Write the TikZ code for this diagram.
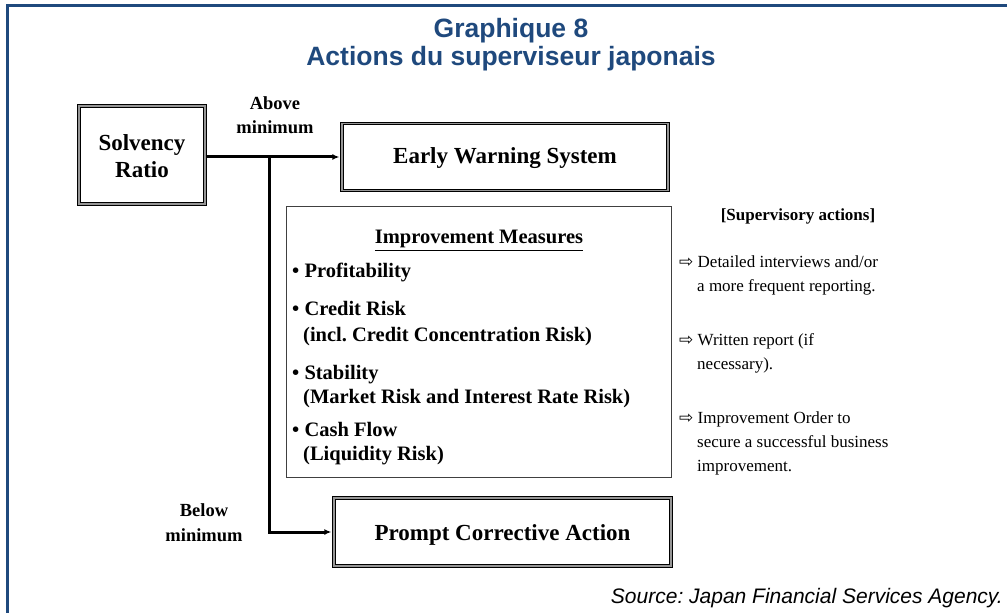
\documentclass[tikz,border=0pt]{standalone}
\usepackage{fontspec}
\setmainfont{Liberation Serif}
\setsansfont{Liberation Sans}
\newfontfamily\djv{DejaVu Sans}
\usetikzlibrary{arrows.meta}
\definecolor{titleblue}{RGB}{31,73,125}
\definecolor{dgray}{RGB}{150,150,150}
\frenchspacing
\begin{document}
\begin{tikzpicture}[x=1bp,y=-1bp,
  dbox/.style={draw=black, line width=1.3bp, double=dgray, double distance=1.3bp, inner sep=0pt},
  mbox/.style={draw=black!75, line width=0.9bp, inner sep=0pt},
  conn/.style={line width=3bp, -{Latex[length=7bp,width=6bp]}, shorten >=2bp},
  ttl/.style={font=\sffamily\bfseries\fontsize{26.5bp}{30bp}\selectfont, text=titleblue, inner sep=0pt, anchor=base},
  lbl/.style={font=\bfseries\fontsize{18.5bp}{22bp}\selectfont, inner sep=0pt, anchor=base},
  big/.style={font=\bfseries\fontsize{23bp}{27bp}\selectfont, inner sep=0pt, anchor=base},
  mid/.style={font=\bfseries\fontsize{20.5bp}{24bp}\selectfont, inner sep=0pt, anchor=base west},
  sup/.style={font=\fontsize{17bp}{20bp}\selectfont, inner sep=0pt, anchor=base west},
  src/.style={font=\sffamily\itshape\fontsize{21bp}{24bp}\selectfont, inner sep=0pt, anchor=base east}]
\useasboundingbox (0,0) rectangle (1007,613);
% frame
\draw[titleblue, line width=3bp] (1007,6) -- (7,6) -- (7,613);
% title
\node[ttl] (t1) at (511,38) {Graphique 8};
\node[ttl] (t2) at (511,66) {Actions du superviseur japonais};
% boxes
\node[dbox, minimum width=126bp, minimum height=98bp] (sr) at (142,155) {};
\node[big] (sr1) at (142,151) {Solvency};
\node[big] (sr2) at (142,178) {Ratio};
\node[dbox, minimum width=326bp, minimum height=67bp] (ew) at (505,157) {};
\node[big] (ewt) at (505,164) {Early Warning System};
\node[mbox, minimum width=385bp, minimum height=271bp] (im) at (478.5,341.5) {};
\node[dbox, minimum width=337bp, minimum height=68bp] (pca) at (502.5,532) {};
\node[big] (pcat) at (502.5,540) {Prompt Corrective Action};
% labels
\node[lbl] (ab1) at (275,110) {Above};
\node[lbl] (ab2) at (275,134) {minimum};
\node[lbl] (be1) at (204,516) {Below};
\node[lbl] (be2) at (204,541) {minimum};
% connectors
\coordinate (j) at (269,157);
\draw[conn] (sr.east |- ew.west) -- (ew.west);
\draw[conn] (j) |- (pca.west);
% improvement measures
\node[mid, anchor=base] (imh) at (479,244) {\underline{Improvement Measures}};
\node[mid] (i1) at (292,278) {• Profitability};
\node[mid] (i2) at (292,315) {• Credit Risk};
\node[mid] (i2b) at (303,341) {(incl. Credit Concentration Risk)};
\node[mid] (i3) at (292,379) {• Stability};
\node[mid] (i3b) at (303,403) {(Market Risk and Interest Rate Risk)};
\node[mid] (i4) at (292,436) {• Cash Flow};
\node[mid] (i4b) at (303,460) {(Liquidity Risk)};
% supervisory actions
\node[sup, font=\bfseries\fontsize{17bp}{20bp}\selectfont, anchor=base] (sa) at (798,221) {[Supervisory actions]};
\node[sup] (s1) at (679,268) {{\djv\fontsize{17bp}{20bp}\selectfont ⇨} Detailed interviews and/or};
\node[sup] (s1b) at (697,292) {a more frequent reporting.};
\node[sup] (s2) at (679,345) {{\djv\fontsize{17bp}{20bp}\selectfont ⇨} Written report (if};
\node[sup] (s2b) at (697,369) {necessary).};
\node[sup] (s3) at (679,423) {{\djv\fontsize{17bp}{20bp}\selectfont ⇨} Improvement Order to};
\node[sup] (s3b) at (697,447) {secure a successful business};
\node[sup] (s3c) at (697,471) {improvement.};
% source
\node[src] (so) at (1003,603) {Source: Japan Financial Services Agency.};
\end{tikzpicture}
\end{document}
